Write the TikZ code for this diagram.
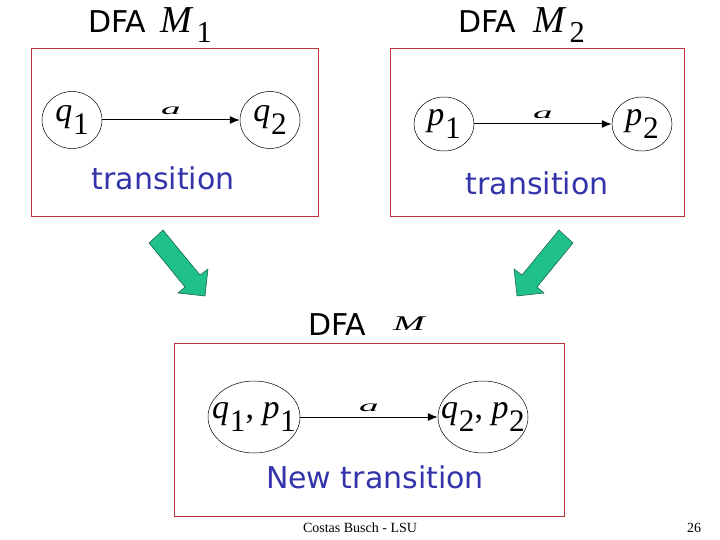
\RequirePackage{fix-cm}
\documentclass[tikz,border=0pt]{standalone}
\usepackage{fontspec}
\usepackage{graphicx}
\setmainfont{Liberation Serif}
\newfontfamily\comicfont{DejaVu Sans}
\usetikzlibrary{shapes.geometric,arrows.meta}
\definecolor{boxred}{RGB}{190,50,60}
\definecolor{txtblue}{RGB}{51,51,170}
\definecolor{arrgreen}{RGB}{32,192,140}
\definecolor{arrdark}{RGB}{20,90,60}
\newcommand{\sst}[2]{\textit{#1}\kern0.02em\raisebox{-0.36em}{\scalebox{0.92}{#2}}}
\newcommand{\lbla}{\scalebox{1.7}[0.7]{\textit{a}}}
\tikzset{
  frame/.style={draw=boxred, line width=0.8pt},
  st/.style={ellipse, draw=black, line width=0.5pt, inner sep=0pt},
  sttext/.style={inner sep=0pt, font=\fontsize{34}{36}\selectfont},
  tr/.style={draw=black, line width=1pt, -{Latex[length=10pt,width=8pt]}},
  lab/.style={above, inner sep=5pt, font=\fontsize{23}{24}\selectfont},
  note/.style={anchor=base, text=txtblue, font=\comicfont\fontsize{30}{34}\selectfont},
  dfa/.style={anchor=base west, inner sep=0pt, font=\comicfont\fontsize{30}{32}\selectfont},
  mname/.style={anchor=base west, inner sep=0pt, font=\fontsize{38}{40}\selectfont},
  bigarrow/.style={fill=arrgreen, draw=arrdark, line width=0.5pt, line join=miter},
  foot/.style={anchor=base, font=\fontsize{14}{16}\selectfont}
}
\begin{document}
\begin{tikzpicture}[x=1pt,y=-1pt]
\useasboundingbox (0,0) rectangle (720,540);
% titles
\node[dfa] (t1) at (88,33) {DFA};
\node[mname] (m1) at (160,33) {\textit{M}\kern0.08em\raisebox{-0.26em}{\scalebox{0.8}{1}}};
\node[dfa] (t2) at (458,33) {DFA};
\node[mname] (m2) at (533,33) {\textit{M}\kern0.08em\raisebox{-0.26em}{\scalebox{0.8}{2}}};
\node[dfa] (t3) at (308,335) {DFA};
\node[mname] (m3) at (393,330) {\scalebox{1}[0.55]{\textit{M}}};
% frames
\draw[frame] (31,48) rectangle (318,216);
\draw[frame] (390,48) rectangle (684,216);
\draw[frame] (174,343) rectangle (564,516);
% box 1
\node[st, minimum width=60pt, minimum height=57pt] (q1) at (72,120) {};
\node[sttext] (q1t) at (q1) {\sst{q}{1}};
\node[st, minimum width=60pt, minimum height=57pt] (q2) at (270,120) {};
\node[sttext] (q2t) at (q2) {\sst{q}{2}};
\draw[tr] (q1) -- node[lab] (a1) {\lbla} (q2);
\node[note] (n1) at (163,190) {transition};
% box 2
\node[st, minimum width=60pt, minimum height=54pt] (p1) at (444,124) {};
\node[sttext] (p1t) at (p1) {\sst{p}{1}};
\node[st, minimum width=60pt, minimum height=54pt] (p2) at (642,124) {};
\node[sttext] (p2t) at (p2) {\sst{p}{2}};
\draw[tr] (p1) -- node[lab] (a2) {\lbla} (p2);
\node[note] (n2) at (537,195) {transition};
% box 3
\node[st, minimum width=92pt, minimum height=72pt] (qp1) at (254,417) {};
\node[sttext] (qp1t) at (qp1) {\sst{q}{1}, \sst{p}{1}};
\node[st, minimum width=90pt, minimum height=72pt] (qp2) at (483,417) {};
\node[sttext] (qp2t) at (qp2) {\sst{q}{2}, \sst{p}{2}};
\draw[tr] (qp1) -- node[lab] (a3) {\lbla} (qp2);
\node[note] (n3) at (375,488) {New transition};
% green arrows
\draw[bigarrow] (149,243) -- (163,230) -- (200,275) -- (208,269) -- (205,296) -- (178,293) -- (185,287) -- cycle;
\draw[bigarrow] (573,243) -- (559,230) -- (522,275) -- (514,269) -- (517,296) -- (544,293) -- (537,287) -- cycle;
% footer
\node[foot] (ft) at (360,532) {Costas Busch - LSU};
\node[foot] (pg) at (694,532) {26};
\end{tikzpicture}
\end{document}
